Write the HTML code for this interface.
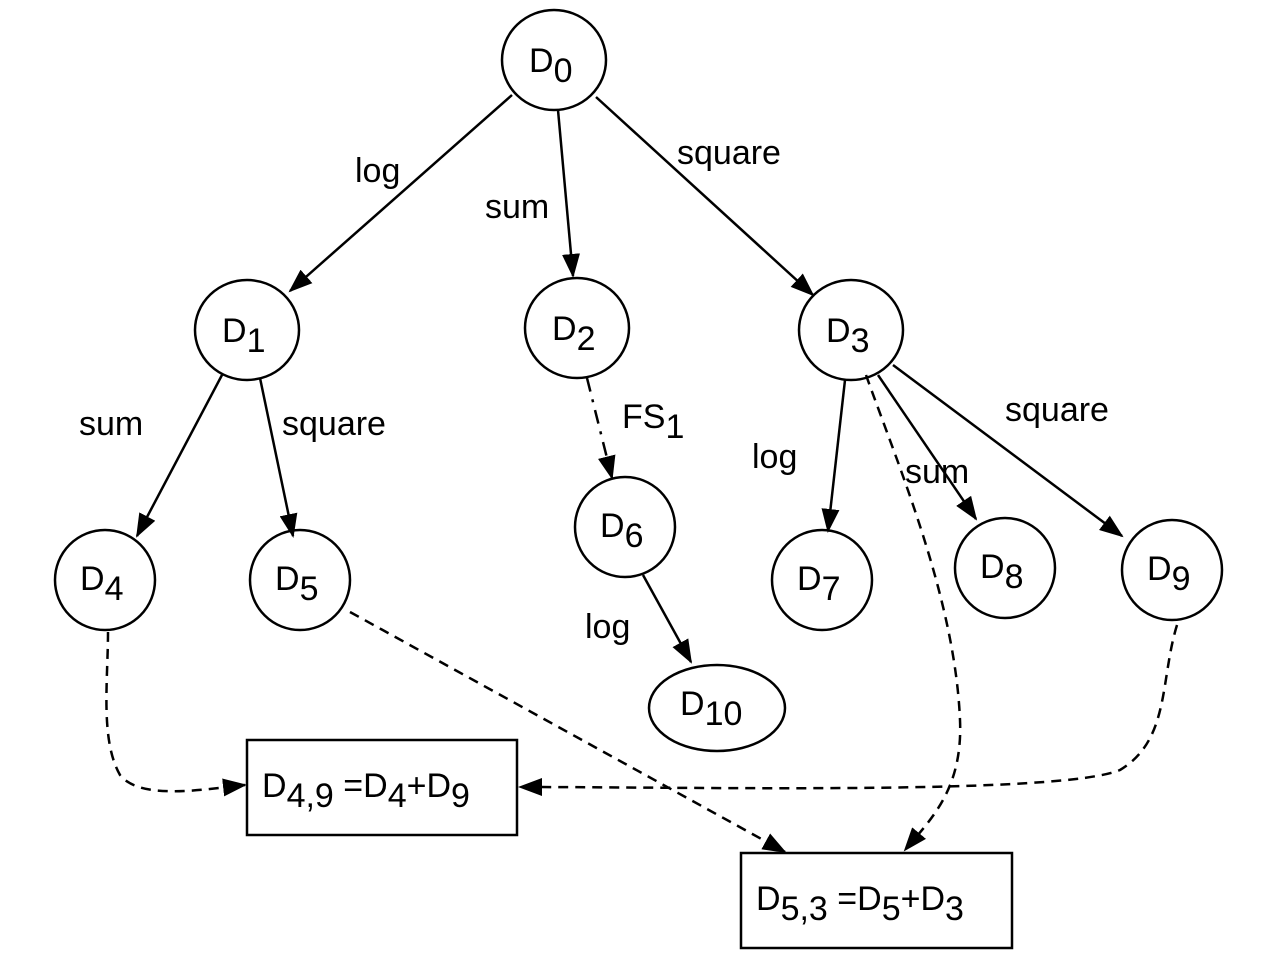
<!DOCTYPE html>
<html><head><style>body{margin:0;background:#fff}svg{display:block}text{font-family:"Liberation Sans",sans-serif;fill:#000}</style></head>
<body>
<svg width="1265" height="973" viewBox="0 0 1265 973" xmlns="http://www.w3.org/2000/svg">
<defs><marker id="a" markerWidth="24" markerHeight="18" refX="22" refY="9" orient="auto" markerUnits="userSpaceOnUse"><path d="M0,0 L24,9 L0,18 Z" fill="#000"/></marker></defs>
<g fill="none" stroke="#000" stroke-width="2.5">
<ellipse cx="554" cy="60" rx="52" ry="50"/>
<ellipse cx="247" cy="330" rx="52" ry="50"/>
<ellipse cx="577" cy="328" rx="52" ry="50"/>
<ellipse cx="851" cy="330" rx="52" ry="50"/>
<ellipse cx="105" cy="580" rx="50" ry="50"/>
<ellipse cx="300" cy="580" rx="50" ry="50"/>
<ellipse cx="625" cy="527" rx="50" ry="50"/>
<ellipse cx="822" cy="580" rx="50" ry="50"/>
<ellipse cx="1005" cy="568" rx="50" ry="50"/>
<ellipse cx="1172" cy="570" rx="50" ry="50"/>
<ellipse cx="717" cy="708" rx="68" ry="43"/>
<rect x="247" y="740" width="270" height="95"/>
<rect x="741" y="853" width="271" height="95"/>
<g marker-end="url(#a)">
<line x1="512" y1="95" x2="290" y2="291"/>
<line x1="558" y1="110" x2="573" y2="276"/>
<line x1="596" y1="97" x2="813" y2="295"/>
<line x1="222" y1="375" x2="137" y2="536"/>
<line x1="260" y1="378" x2="293" y2="536"/>
<line x1="587" y1="378" x2="612" y2="478" stroke-dasharray="14,8,3,8"/>
<line x1="643" y1="575" x2="691" y2="662"/>
<line x1="845" y1="380" x2="828" y2="531"/>
<line x1="878" y1="375" x2="976" y2="519"/>
<line x1="893" y1="365" x2="1122" y2="536"/>
<g stroke-dasharray="10,7">
<path d="M866,375 C900,470 955,600 960,720 C963,790 930,820 905,850"/>
<path d="M108,632 C108,680 100,740 120,775 C140,800 200,790 245,785"/>
<line x1="350" y1="612" x2="785" y2="852"/>
<path d="M1177,625 C1160,680 1170,740 1120,770 C1060,795 700,787 520,787"/>
</g>
</g>
</g>
<g font-size="34">
<text x="529" y="72">D<tspan font-size="34" dy="10">0</tspan></text>
<text x="222" y="342">D<tspan dy="10">1</tspan></text>
<text x="552" y="340">D<tspan dy="10">2</tspan></text>
<text x="826" y="342">D<tspan dy="10">3</tspan></text>
<text x="80" y="590">D<tspan dy="10">4</tspan></text>
<text x="275" y="590">D<tspan dy="10">5</tspan></text>
<text x="600" y="537">D<tspan dy="10">6</tspan></text>
<text x="797" y="590">D<tspan dy="10">7</tspan></text>
<text x="980" y="578">D<tspan dy="10">8</tspan></text>
<text x="1147" y="580">D<tspan dy="10">9</tspan></text>
<text x="680" y="715">D<tspan dy="10">10</tspan></text>
<text x="262" y="797">D<tspan dy="10">4,9</tspan><tspan dy="-10"> =D</tspan><tspan dy="10">4</tspan><tspan dy="-10">+D</tspan><tspan dy="10">9</tspan></text>
<text x="756" y="910">D<tspan dy="10">5,3</tspan><tspan dy="-10"> =D</tspan><tspan dy="10">5</tspan><tspan dy="-10">+D</tspan><tspan dy="10">3</tspan></text>
<text x="355" y="182">log</text>
<text x="485" y="218">sum</text>
<text x="677" y="164">square</text>
<text x="79" y="435">sum</text>
<text x="282" y="435">square</text>
<text x="622" y="428">FS<tspan dy="10">1</tspan></text>
<text x="752" y="468">log</text>
<text x="905" y="483">sum</text>
<text x="1005" y="421">square</text>
<text x="585" y="638">log</text>
</g>
</svg>
</body></html>
